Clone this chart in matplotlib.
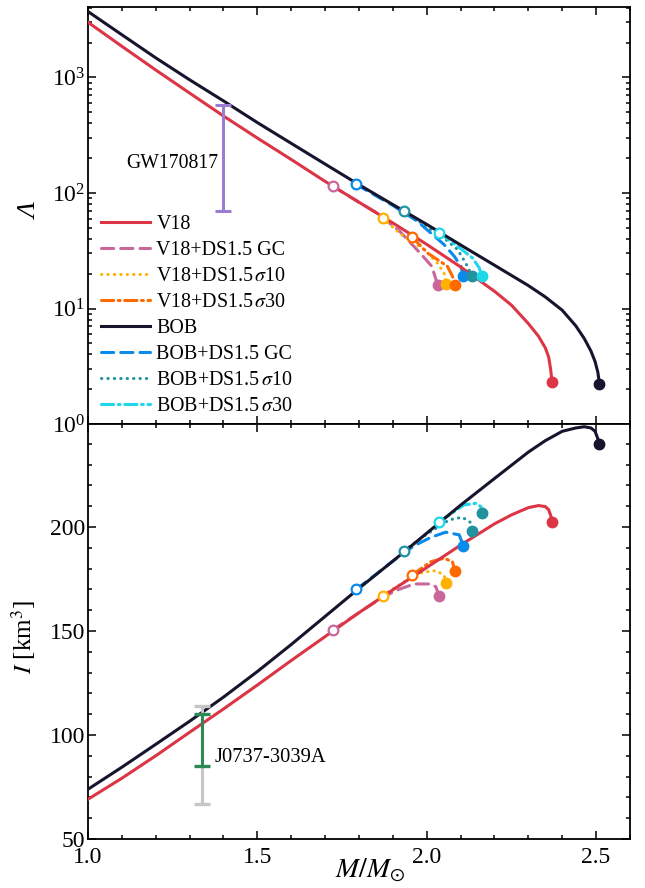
import matplotlib
matplotlib.use('Agg')
import matplotlib.pyplot as plt
from matplotlib.ticker import MultipleLocator, LogLocator

plt.rcParams['font.family'] = 'Liberation Serif'
plt.rcParams['mathtext.fontset'] = 'stix'

# ─── 1) MAIN EOS CURVES (mass, tidal deformability, moment of inertia) ───────

m_v18 = [1.0, 1.1, 1.2, 1.3, 1.4, 1.5, 1.6, 1.7, 1.8, 1.9, 2.0, 2.1, 2.2,
         2.25, 2.3, 2.33, 2.35, 2.36, 2.366, 2.37]
lam_v18 = [3006, 1862, 1161, 733, 464, 299, 195, 126, 83.2, 55.0, 35.9, 22.9,
           14.1, 10.7, 7.41, 5.75, 4.57, 3.80, 2.95, 2.29]
I_v18 = [69.1, 79.2, 90.0, 101.3, 112.5, 124.0, 135.8, 147.3, 158.8, 169.8,
         180.5, 191.3, 201.5, 205.8, 209.3, 210.3, 209.8, 208.3, 205.5, 202.5]

m_bob = [1.0, 1.1, 1.2, 1.3, 1.4, 1.5, 1.6, 1.7, 1.8, 1.9, 2.0, 2.1, 2.2,
         2.3, 2.35, 2.4, 2.44, 2.465, 2.485, 2.497, 2.505, 2.51]
lam_bob = [3724, 2344, 1479, 955, 627, 407, 269, 178, 118, 79.4, 53.5, 35.5,
           23.7, 15.8, 12.6, 9.66, 7.08, 5.50, 4.27, 3.47, 2.82, 2.24]
I_bob = [73.9, 84.5, 95.5, 106.6, 118.2, 130.5, 143.5, 157.0, 170.5, 183.6,
         197.0, 210.5, 223.3, 236.0, 241.5, 246.0, 247.6, 248.2, 247.6, 246.0,
         242.5, 240.0]

# ─── 2) DARK-SECTOR BRANCHES: top panel (Lambda) ─────────────────────────────

v18_gc_mL = [1.722, 1.80, 1.85, 1.92, 1.98, 2.015, 2.032]
v18_gc_L = [115, 83, 68, 46.7, 30.3, 23.2, 16.1]
v18_s10_mL = [1.870, 1.923, 1.992, 2.031, 2.051, 2.058]
v18_s10_L = [60.5, 44.0, 32.4, 24.8, 20.3, 16.3]
v18_s30_mL = [1.956, 2.002, 2.061, 2.076, 2.083]
v18_s30_L = [41.8, 30.3, 23.2, 19.0, 16.1]
bob_gc_mL = [1.791, 1.90, 1.972, 2.051, 2.081, 2.101, 2.108]
bob_gc_L = [119, 78, 57, 35.8, 28.4, 23.2, 19.3]
bob_s10_mL = [1.933, 2.00, 2.056, 2.091, 2.115, 2.133]
bob_s10_L = [69.7, 51, 39.5, 32.4, 24.8, 19.3]
bob_s30_mL = [2.037, 2.091, 2.135, 2.155, 2.163]
bob_s30_L = [45.3, 34.6, 27.4, 22.5, 19.0]

# ─── 3) DARK-SECTOR BRANCHES: bottom panel (I) ───────────────────────────────

v18_gc_mI = [1.722, 1.80, 1.87, 1.918, 1.963, 2.012, 2.027, 2.036]
v18_gc_I = [150.4, 158.8, 166.3, 170.0, 172.6, 172.6, 171.3, 166.8]
v18_s10_mI = [1.870, 1.93, 1.987, 2.027, 2.051, 2.058]
v18_s10_I = [167.0, 173.3, 178.2, 179.0, 176.9, 172.9]
v18_s30_mI = [1.956, 2.012, 2.051, 2.076, 2.083]
v18_s30_I = [176.8, 183.3, 185.0, 183.3, 179.0]
bob_gc_mI = [1.791, 1.85, 1.90, 1.962, 2.012, 2.056, 2.096, 2.108]
bob_gc_I = [170.0, 177.2, 183.6, 190.9, 195.0, 197.5, 196.2, 190.9]
bob_s10_mI = [1.933, 2.0, 2.066, 2.105, 2.13, 2.133]
bob_s10_I = [188.6, 196.5, 203.4, 204.7, 202.1, 198.2]
bob_s30_mI = [2.037, 2.11, 2.145, 2.16, 2.163]
bob_s30_I = [202.5, 210.6, 211.4, 209.8, 206.6]

# ─── 4) OBSERVATIONAL CONSTRAINTS ────────────────────────────────────────────

gw_m, gw_lo, gw_hi = 1.40, 70, 580
j_m = 1.338
j_green_lo, j_green_hi = 85, 110
j_gray_lo, j_gray_hi = 67, 114

# ─── 5) STYLES ───────────────────────────────────────────────────────────────

c_v18, c_bob = '#dc3545', '#17142e'
c_v18_gc, c_v18_s10, c_v18_s30 = '#c9679a', '#ffb000', '#ff6a00'
c_bob_gc, c_bob_s10, c_bob_s30 = '#0a8aea', '#2192a0', '#1fd6ea'
ls_gc = (0, (4, 2.3))
ls_s10 = (0, (0.1, 2.0))
ls_s30 = (0, (4, 1.5, 0.6, 1.5))

LW = 2.2
branches_L = [
    ('V18+DS1.5 GC', v18_gc_mL, v18_gc_L, c_v18_gc, ls_gc, c_v18_gc),
    (r'V18+DS1.5$\,\sigma$10', v18_s10_mL, v18_s10_L, c_v18_s10, ls_s10, c_v18_s10),
    (r'V18+DS1.5$\,\sigma$30', v18_s30_mL, v18_s30_L, c_v18_s30, ls_s30, c_v18_s30),
    ('BOB+DS1.5 GC', bob_gc_mL, bob_gc_L, c_bob_gc, ls_gc, c_bob_gc),
    (r'BOB+DS1.5$\,\sigma$10', bob_s10_mL, bob_s10_L, c_bob_s10, ls_s10, c_bob_s10),
    (r'BOB+DS1.5$\,\sigma$30', bob_s30_mL, bob_s30_L, c_bob_s30, ls_s30, c_bob_s30),
]
branches_I = [
    ('V18+DS1.5 GC', v18_gc_mI, v18_gc_I, c_v18_gc, ls_gc, c_v18_gc),
    (r'V18+DS1.5$\,\sigma$10', v18_s10_mI, v18_s10_I, c_v18_s10, ls_s10, c_v18_s10),
    (r'V18+DS1.5$\,\sigma$30', v18_s30_mI, v18_s30_I, c_v18_s30, ls_s30, c_v18_s30),
    ('BOB+DS1.5 GC', bob_gc_mI, bob_gc_I, c_bob_gc, ls_gc, c_bob_gc),
    (r'BOB+DS1.5$\,\sigma$10', bob_s10_mI, bob_s10_I, c_bob_s10, ls_s10, c_bob_s10),
    # end dot of this one is teal in the original figure
    (r'BOB+DS1.5$\,\sigma$30', bob_s30_mI, bob_s30_I, c_bob_s30, ls_s30, c_bob_s10),
]


def style_axes(ax):
    ax.tick_params(which='both', direction='in', top=True, right=True, width=1.1)
    ax.tick_params(which='major', length=6, labelsize=17)
    ax.tick_params(which='minor', length=3)
    for s in ax.spines.values():
        s.set_linewidth(1.3)


def draw_panel(ax, main_v18, main_bob, branches):
    ax.plot(m_v18, main_v18, color=c_v18, lw=LW, zorder=3, label='V18')
    for lab, m, y, c, ls, cend in branches[:3]:
        ax.plot(m, y, color=c, lw=LW, ls=ls, dash_capstyle='round', zorder=2, label=lab)
    ax.plot(m_bob, main_bob, color=c_bob, lw=LW, zorder=3, label='BOB')
    for lab, m, y, c, ls, cend in branches[3:]:
        ax.plot(m, y, color=c, lw=LW, ls=ls, dash_capstyle='round', zorder=2, label=lab)
    # onset (open) and end (filled) markers
    for lab, m, y, c, ls, cend in branches:
        ax.plot(m[0], y[0], 'o', mfc='white', mec=c, mew=1.6, ms=7, zorder=5)
        ax.plot(m[-1], y[-1], 'o', color=cend, ms=7.5, zorder=5)
    ax.plot(m_v18[-1], main_v18[-1], 'o', color=c_v18, ms=7.5, zorder=5)
    ax.plot(m_bob[-1], main_bob[-1], 'o', color=c_bob, ms=7.5, zorder=5)


# ─── 6) FIGURE ───────────────────────────────────────────────────────────────

fig = plt.figure(figsize=(6.45, 8.88), dpi=100)
ax1 = fig.add_axes([0.1364, 0.5225, 0.8403, 0.4696])
ax2 = fig.add_axes([0.1364, 0.0552, 0.8403, 0.4673])

# top: Lambda
draw_panel(ax1, lam_v18, lam_bob, branches_L)
ax1.errorbar([gw_m], [gw_lo], yerr=[[0], [gw_hi - gw_lo]], fmt='none',
             ecolor='#9b7dd4', elinewidth=2.2, capsize=5.5, capthick=2.2, zorder=4)
ax1.text(1.385, 180, 'GW170817', ha='right', va='center', fontsize=14.2)
ax1.set_yscale('log')
ax1.set_ylim(1, 10 ** 3.61)
ax1.set_xlim(1.0, 2.6)
ax1.yaxis.set_major_locator(LogLocator(base=10, numticks=10))
ax1.yaxis.set_minor_locator(LogLocator(base=10, subs=range(2, 10), numticks=20))
ax1.xaxis.set_major_locator(MultipleLocator(0.5))
ax1.xaxis.set_minor_locator(MultipleLocator(0.1))
style_axes(ax1)
ax1.tick_params(axis='x', labelbottom=False)
ax1.tick_params(axis='y', pad=2)
ax1.set_ylabel('Λ', fontstyle='italic', fontsize=19)
ax1.yaxis.set_label_coords(-0.085, 0.508)
ax1.legend(loc='lower left', bbox_to_anchor=(0.01, 0.0), frameon=False,
           fontsize=14.4, handlelength=2.45, handletextpad=0.3,
           labelspacing=0.35, borderpad=0.4, borderaxespad=0)

# bottom: moment of inertia
draw_panel(ax2, I_v18, I_bob, branches_I)
ax2.errorbar([j_m], [j_gray_lo], yerr=[[0], [j_gray_hi - j_gray_lo]], fmt='none',
             ecolor='#c6c6c6', elinewidth=2.2, capsize=5.8, capthick=2.4, zorder=4)
ax2.errorbar([j_m], [j_green_lo], yerr=[[0], [j_green_hi - j_green_lo]], fmt='none',
             ecolor='#2e8a55', elinewidth=2.2, capsize=5.8, capthick=2.4, zorder=4)
ax2.text(1.375, 89, 'J0737-3039A', ha='left', va='center', fontsize=14.8)
ax2.set_xlim(1.0, 2.6)
ax2.set_ylim(50, 249.5)
ax2.xaxis.set_major_locator(MultipleLocator(0.5))
ax2.xaxis.set_minor_locator(MultipleLocator(0.1))
ax2.yaxis.set_major_locator(MultipleLocator(50))
ax2.yaxis.set_minor_locator(MultipleLocator(10))
style_axes(ax2)
ax2.tick_params(axis='x', pad=6)
ax2.tick_params(axis='y', pad=2)
ax2.set_yticks([50, 100, 150, 200])
ax2.set_ylabel(r'$I$ [km$^3$]', fontsize=18)
ax2.yaxis.set_label_coords(-0.092, 0.487)
ax2.set_xlabel(r'$M/M_{\odot}$', fontsize=20)
ax2.xaxis.set_label_coords(0.52, -0.043)

fig.savefig('out.png', dpi=100)
